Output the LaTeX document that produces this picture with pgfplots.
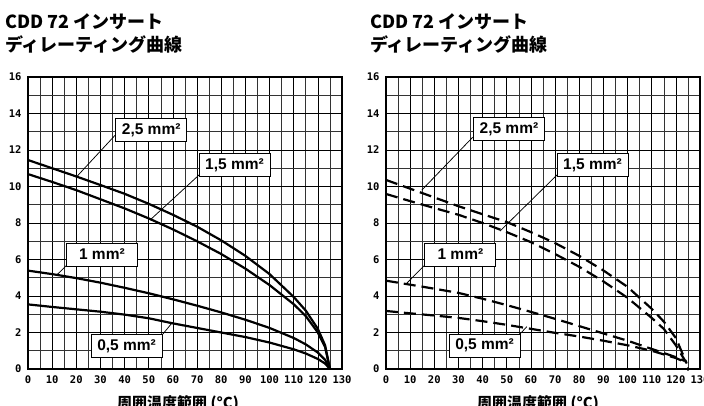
\documentclass[border=0pt]{standalone}
\usepackage{fontspec}
\usepackage{pgfplots}
\pgfplotsset{compat=1.18}
\setmainfont{Liberation Sans}
\newfontfamily\cjk{Noto Sans CJK JP}
\newfontfamily\tickfont{DejaVu Sans Mono Bold}
\pgfplotsset{
  ed/.style={
    scale only axis, width=314pt, height=292pt,
    xmin=0, xmax=130, ymin=0, ymax=16, anchor=south west,
    xtick={0,10,...,130}, ytick={0,2,...,16},
    minor x tick num=1, minor y tick num=1, grid=both,
    major grid style={black, line width=0.65pt},
    minor grid style={black!80, line width=0.55pt},
    axis line style={line width=1.5pt},
    tick align=inside, major tick length=0pt, minor tick length=0pt,
    /pgf/number format/assume math mode=true,
    tick label style={font=\tickfont\fontsize{10.5}{10.5}\selectfont},
    xticklabel style={yshift=-3pt},
    yticklabel style={xshift=-3pt},
    clip=false,
  },
}
\tikzset{
  lab/.style={draw=black, line width=0.9pt, fill=white, inner sep=0pt,
    minimum height=23pt, minimum width=71pt,
    font=\bfseries\fontsize{15.5}{15.5}\selectfont},
  curve/.style={black, line width=2.2pt, line join=round},
  dcurve/.style={black, line width=2.2pt, dash pattern=on 12pt off 6pt},
  leader/.style={black, line width=0.75pt},
}
\begin{document}
\begin{tikzpicture}[x=1pt,y=1pt]
\useasboundingbox (0,0) rectangle (704,405);
\node[anchor=base west, inner sep=0, font=\cjk\bfseries\fontsize{18}{18}\selectfont] at (5,376) {CDD 72 インサート};
\node[anchor=base west, inner sep=0, font=\cjk\bfseries\fontsize{18}{18}\selectfont] at (5,353) {ディレーティング曲線};
\node[anchor=base west, inner sep=0, font=\cjk\bfseries\fontsize{18}{18}\selectfont] at (370,376) {CDD 72 インサート};
\node[anchor=base west, inner sep=0, font=\cjk\bfseries\fontsize{18}{18}\selectfont] at (370,353) {ディレーティング曲線};
\node[anchor=base, inner sep=0, font=\cjk\bfseries\fontsize{15}{15}\selectfont] at (178,-3) {周囲温度範囲 (°C)};
\node[anchor=base, inner sep=0, font=\cjk\bfseries\fontsize{15}{15}\selectfont] at (538,-3) {周囲温度範囲 (°C)};

\begin{axis}[ed, at={(28pt,36pt)}]
\addplot[curve] coordinates {(0,11.45)(10,11.0)(20,10.55)(30,10.08)(40,9.6)(50,9.05)(60,8.45)(70,7.8)(80,7.05)(90,6.2)(100,5.2)(110,3.95)(115,3.2)(120,2.2)(123,1.3)(125,0)};
\addplot[curve] coordinates {(0,10.68)(10,10.25)(20,9.8)(30,9.3)(40,8.8)(50,8.25)(60,7.65)(70,7.0)(80,6.3)(90,5.5)(100,4.6)(110,3.55)(115,2.9)(120,2.0)(123,1.2)(125,0)};
\addplot[curve] coordinates {(0,5.39)(10,5.2)(20,4.98)(30,4.73)(40,4.45)(50,4.15)(60,3.82)(70,3.47)(80,3.1)(90,2.7)(100,2.25)(110,1.7)(115,1.35)(120,0.9)(123,0.5)(125,0)};
\addplot[curve] coordinates {(0,3.54)(10,3.4)(20,3.27)(30,3.14)(40,2.98)(50,2.78)(60,2.5)(70,2.25)(80,2.0)(90,1.75)(100,1.45)(110,1.08)(115,0.85)(120,0.55)(123,0.3)(125,0)};
\draw[leader] (axis cs:36,12.8) -- (axis cs:19.9,10.5);
\draw[leader] (axis cs:70.8,10.63) -- (axis cs:50.5,8.16);
\draw[leader] (axis cs:16.1,5.7) -- (axis cs:11.9,5.15);
\draw[leader] (axis cs:55.5,1.86) -- (axis cs:59.6,2.52);
\node[lab] at (axis cs:51,13.1) {2,5 mm²};
\node[lab] at (axis cs:85.5,11.18) {1,5 mm²};
\node[lab] at (axis cs:30.6,6.27) {1 mm²};
\node[lab] at (axis cs:40.8,1.26) {0,5 mm²};
\end{axis}

\begin{axis}[ed, at={(386pt,36pt)}]
\addplot[dcurve] coordinates {(0,10.36)(10,9.88)(20,9.4)(30,8.92)(40,8.48)(50,8.05)(60,7.5)(70,6.9)(80,6.2)(90,5.4)(100,4.5)(110,3.3)(115,2.6)(120,1.7)(124.5,0.3)};
\addplot[dcurve] coordinates {(0,9.59)(10,9.2)(20,8.82)(30,8.45)(40,8.0)(50,7.5)(60,6.95)(70,6.3)(80,5.6)(90,4.8)(100,3.9)(110,2.8)(115,2.2)(120,1.3)(124.3,0.35)};
\addplot[dcurve] coordinates {(0,4.84)(10,4.62)(20,4.4)(30,4.17)(40,3.85)(50,3.5)(60,3.13)(70,2.75)(80,2.35)(90,1.95)(100,1.55)(110,1.1)(120,0.65)(123.5,0.45)};
\addplot[dcurve] coordinates {(0,3.18)(10,3.05)(20,2.93)(30,2.8)(40,2.62)(50,2.42)(60,2.2)(70,1.98)(80,1.78)(90,1.55)(100,1.3)(110,1.0)(120,0.6)(123.5,0.4)};
\addplot[only marks, mark=*, mark size=1.6pt, black] coordinates {(125,0)};
\draw[leader] (axis cs:35.9,12.7) -- (axis cs:14.8,9.8);
\draw[leader] (axis cs:70.8,10.63) -- (axis cs:47.2,7.56);
\draw[leader] (axis cs:16.1,5.7) -- (axis cs:8.6,4.7);
\draw[leader] (axis cs:55.5,1.92) -- (axis cs:58.3,2.32);
\node[lab] at (axis cs:50.9,13.15) {2,5 mm²};
\node[lab] at (axis cs:85.5,11.18) {1,5 mm²};
\node[lab] at (axis cs:30.8,6.27) {1 mm²};
\node[lab] at (axis cs:40.8,1.29) {0,5 mm²};
\end{axis}
\end{tikzpicture}
\end{document}
